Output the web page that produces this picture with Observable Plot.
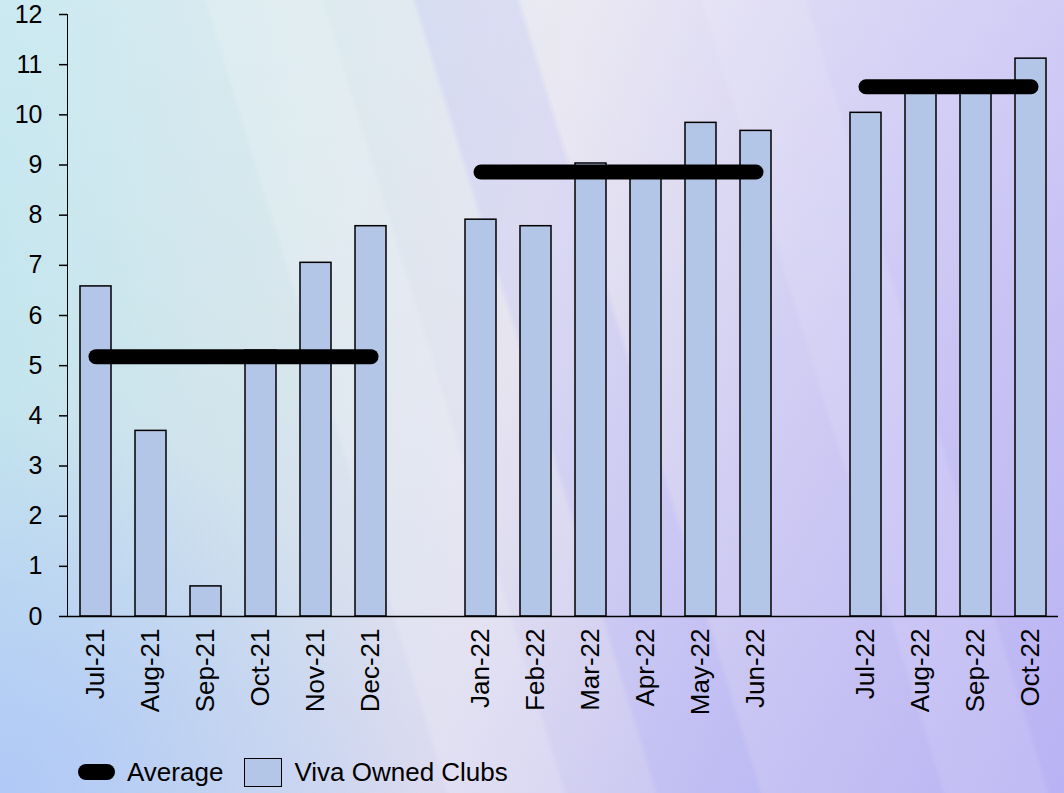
<!DOCTYPE html>
<html>
<head>
<meta charset="utf-8">
<script src="https://cdn.jsdelivr.net/npm/d3@7"></script>
<script src="https://cdn.jsdelivr.net/npm/@observablehq/plot@0.6"></script>
<style>
  html, body { margin: 0; padding: 0; }
  body {
    width: 1064px;
    height: 793px;
    overflow: hidden;
    font-family: "Liberation Sans", Arial, sans-serif;
    background:
      linear-gradient(73deg, rgba(255,255,255,0) 0%, rgba(255,255,255,0) 34%, rgba(255,255,255,0.16) 34.5%, rgba(255,255,255,0.16) 43%, rgba(255,255,255,0) 43.5%, rgba(255,255,255,0) 72%, rgba(255,255,255,0.10) 72.5%, rgba(255,255,255,0.10) 80%, rgba(255,255,255,0) 80.5%),
      linear-gradient(73deg, rgba(130,130,250,0) 0%, rgba(130,130,250,0) 50%, rgba(130,130,250,0.12) 50.5%, rgba(130,130,250,0.12) 58%, rgba(130,130,250,0) 58.5%),
      radial-gradient(ellipse 420px 380px at 0% 100%, rgba(170,195,250,0.75), rgba(170,195,250,0) 100%),
      linear-gradient(to bottom, rgba(255,255,255,0.18) 0%, rgba(255,255,255,0) 45%, rgba(120,120,240,0.10) 100%),
      linear-gradient(100deg, #c0e5ee 0%, #d6e6ec 28%, #e6e4f0 48%, #d2cef3 70%, #c0b9f4 100%);
  }
  #chart svg { display: block; }
  .legend {
    display: flex;
    align-items: center;
    height: 30px;
    margin-top: 17px;
    padding-left: 78px;
    font-size: 26px;
    color: #000;
  }
  .sw-line {
    width: 37px; height: 16px; border-radius: 8px; background: #000;
    margin-right: 12px;
  }
  .sw-box {
    width: 36px; height: 27px; background: #b4c6e7; border: 1.5px solid #000;
    margin-left: 21px; margin-right: 12px;
  }
</style>
</head>
<body>
<div id="chart"></div>
<div class="legend">
  <div class="sw-line"></div><span>Average</span>
  <div class="sw-box"></div><span>Viva Owned Clubs</span>
</div>
<script>
// Band slots along the x axis; the blank entries keep a gap between periods
const xSlots = [
  "Jul-21", "Aug-21", "Sep-21", "Oct-21", "Nov-21", "Dec-21", "",
  "Jan-22", "Feb-22", "Mar-22", "Apr-22", "May-22", "Jun-22", " ",
  "Jul-22", "Aug-22", "Sep-22", "Oct-22"
];

// Monthly values for Viva Owned Clubs
const months = [
  "Jul-21", "Aug-21", "Sep-21", "Oct-21", "Nov-21", "Dec-21",
  "Jan-22", "Feb-22", "Mar-22", "Apr-22", "May-22", "Jun-22",
  "Jul-22", "Aug-22", "Sep-22", "Oct-22"
];
const clubs = [
  6.58, 3.70, 0.60, 5.30, 7.05, 7.78,
  7.91, 7.78, 9.03, 8.85, 9.84, 9.68,
  10.04, 10.52, 10.58, 11.12
];

// Period averages, drawn from the first to the last month of each period
const periods = ["H2 2021", "H1 2022", "H2 2022"];
const periodStart = ["Jul-21", "Jan-22", "Jul-22"];
const periodEnd = ["Dec-21", "Jun-22", "Oct-22"];
const averages = [5.18, 8.86, 10.56];

const yTicks = d3.range(0, 13);

const bars = months.map((m, i) => ({month: m, value: clubs[i]}));
const avgPoints = periods.flatMap((p, i) => [
  {period: p, month: periodStart[i], value: averages[i]},
  {period: p, month: periodEnd[i], value: averages[i]}
]);

const chart = Plot.plot({
  width: 1064,
  height: 740,
  marginLeft: 67,
  marginRight: 6,
  marginTop: 14,
  marginBottom: 124,
  style: {
    fontFamily: "'Liberation Sans', Arial, sans-serif",
    fontSize: "25px",
    background: "transparent",
    color: "#000",
    overflow: "visible"
  },
  x: {
    type: "band",
    domain: xSlots,
    paddingInner: 0.44,
    paddingOuter: 0.22,
    tickSize: 0,
    tickPadding: 12,
    tickRotate: -90,
    label: null
  },
  y: {
    domain: [0, 12],
    ticks: yTicks,
    tickSize: 8,
    tickPadding: 17,
    line: true,
    label: null
  },
  marks: [
    Plot.barY(bars, {
      x: "month",
      y: "value",
      fill: "#b4c6e7",
      stroke: "#000",
      strokeWidth: 1.5
    }),
    Plot.ruleY([0], {stroke: "#000", strokeWidth: 1.5}),
    Plot.lineY(avgPoints, {
      x: "month",
      y: "value",
      z: "period",
      stroke: "#000",
      strokeWidth: 15,
      strokeLinecap: "round"
    })
  ]
});

const svg = d3.select(chart);
svg.selectAll("[aria-label='y-axis'] path, [aria-label='y-axis tick'] path")
  .attr("stroke-width", 1.5);
svg.selectAll("[aria-label='x-axis'] text, [aria-label='x-axis tick label'] text")
  .style("font-size", "26px");
document.getElementById("chart").append(chart);
</script>
</body>
</html>
